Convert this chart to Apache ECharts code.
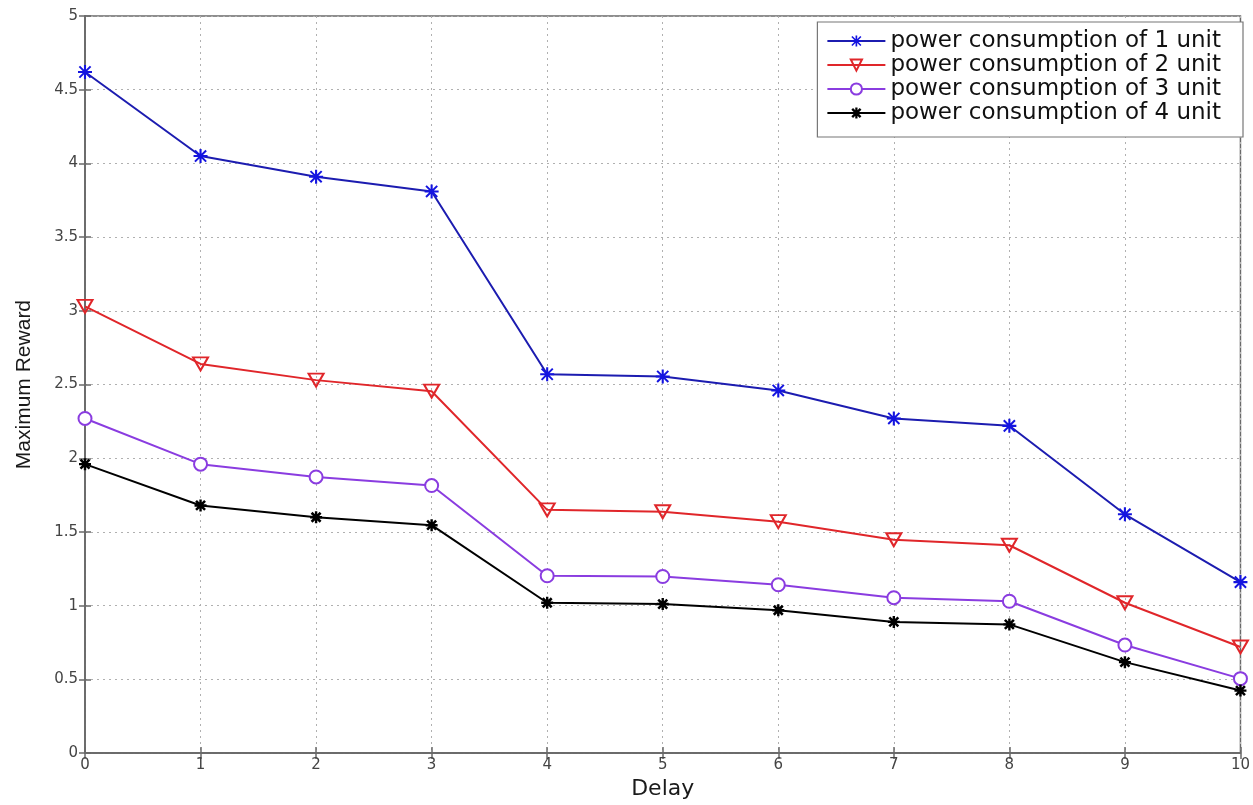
<!DOCTYPE html>
<html>
<head>
<meta charset="utf-8">
<script src="https://cdn.jsdelivr.net/npm/echarts@6/dist/echarts.min.js"></script>
<style>
html,body{margin:0;padding:0;background:#fff;}
#main{width:1253px;height:805px;}
</style>
</head>
<body>
<div id="main"></div>
<script>
const delays = [0,1,2,3,4,5,6,7,8,9,10];
const seriesNames = [
  'power consumption of 1 unit',
  'power consumption of 2 unit',
  'power consumption of 3 unit',
  'power consumption of 4 unit'
];
const unit1 = [4.62, 4.05, 3.91, 3.81, 2.57, 2.555, 2.46, 2.27, 2.22, 1.62, 1.16];
const unit2 = [3.03, 2.64, 2.53, 2.455, 1.65, 1.637, 1.57, 1.447, 1.41, 1.02, 0.72];
const unit3 = [2.27, 1.96, 1.873, 1.815, 1.203, 1.198, 1.142, 1.054, 1.03, 0.733, 0.505];
const unit4 = [1.96, 1.68, 1.60, 1.546, 1.02, 1.011, 0.969, 0.89, 0.873, 0.617, 0.424];

const star = 'path://M0 8.5L20 8.5L20 11.5L0 11.5Z M8.5 0L11.5 0L11.5 20L8.5 20Z M1 3L3 1L19 17L17 19Z M17 1L19 3L3 19L1 17Z';
const starBold = 'path://M0 8L20 8L20 12L0 12Z M8 0L12 0L12 20L8 20Z M1 4L4 1L19 16L16 19Z M16 1L19 4L4 19L1 16Z';

function pairs(vals){ return delays.map((d,i)=>[d, vals[i]]); }

const FONT = 'DejaVu Sans';
const chart = echarts.init(document.getElementById('main'), null, {renderer:'canvas'});
const axisLineStyle = {color:'#6a6a6a', width:1.5};
const gridLine = {show:true, lineStyle:{color:'#b0b0b0', type:[2,4], width:1}};

chart.setOption({
  animation:false,
  backgroundColor:'#fff',
  grid:{left:85, right:11, top:16, bottom:46, show:true, borderColor:'#6a6a6a', borderWidth:1.5},
  legend:{
    data:seriesNames,
    orient:'vertical', right:10, top:22,
    backgroundColor:'#fff', borderColor:'#777', borderWidth:1.2,
    padding:[7,22,12,9],
    itemWidth:58, itemHeight:14, itemGap:0,
    textStyle:{fontFamily:FONT, fontSize:23, color:'#111', lineHeight:24}
  },
  xAxis:[{
    type:'value', min:0, max:10, interval:1,
    name:'Delay', nameLocation:'middle', nameGap:22,
    nameTextStyle:{fontFamily:FONT, fontSize:22, color:'#1a1a1a'},
    axisLine:{show:true, lineStyle:axisLineStyle},
    axisTick:{show:true, inside:true, length:6, lineStyle:{color:'#6a6a6a', width:1.5}},
    axisLabel:{fontFamily:FONT, fontSize:15, color:'#444', margin:5},
    splitLine:gridLine
  },{
    type:'value', min:0, max:10, interval:1, position:'top',
    axisLine:{show:true, lineStyle:axisLineStyle},
    axisTick:{show:true, inside:true, length:6, lineStyle:{color:'#6a6a6a', width:1.5}},
    axisLabel:{show:false}, splitLine:{show:false}
  }],
  yAxis:[{
    type:'value', min:0, max:5, interval:0.5,
    name:'Maximum Reward', nameLocation:'middle', nameGap:50,
    nameTextStyle:{fontFamily:'Liberation Sans', fontSize:21, color:'#1a1a1a'},
    axisLine:{show:true, lineStyle:axisLineStyle},
    axisTick:{show:true, inside:true, length:6, lineStyle:{color:'#6a6a6a', width:1.5}},
    axisLabel:{fontFamily:FONT, fontSize:15, color:'#444', margin:7},
    splitLine:gridLine
  },{
    type:'value', min:0, max:5, interval:0.5, position:'right',
    axisLine:{show:true, lineStyle:axisLineStyle},
    axisTick:{show:true, inside:true, length:6, lineStyle:{color:'#6a6a6a', width:1.5}},
    axisLabel:{show:false}, splitLine:{show:false}
  }],
  series:[
    {name:seriesNames[0], type:'line', data:pairs(unit1),
     symbol:star, symbolSize:14,
     lineStyle:{color:'#1c1cb0', width:2},
     itemStyle:{color:'#1414e0'}},
    {name:seriesNames[1], type:'line', data:pairs(unit2),
     symbol:'triangle', symbolRotate:180, symbolSize:[15,13],
     lineStyle:{color:'#e0262a', width:2},
     itemStyle:{color:'rgba(255,255,255,0)', borderColor:'#e0262a', borderWidth:2}},
    {name:seriesNames[2], type:'line', data:pairs(unit3),
     symbol:'emptyCircle', symbolSize:13,
     lineStyle:{color:'#8a3ce0', width:2},
     itemStyle:{color:'#8a3ce0', borderWidth:2}},
    {name:seriesNames[3], type:'line', data:pairs(unit4),
     symbol:starBold, symbolSize:12,
     lineStyle:{color:'#000', width:2},
     itemStyle:{color:'#000'}}
  ]
});
</script>
</body>
</html>
